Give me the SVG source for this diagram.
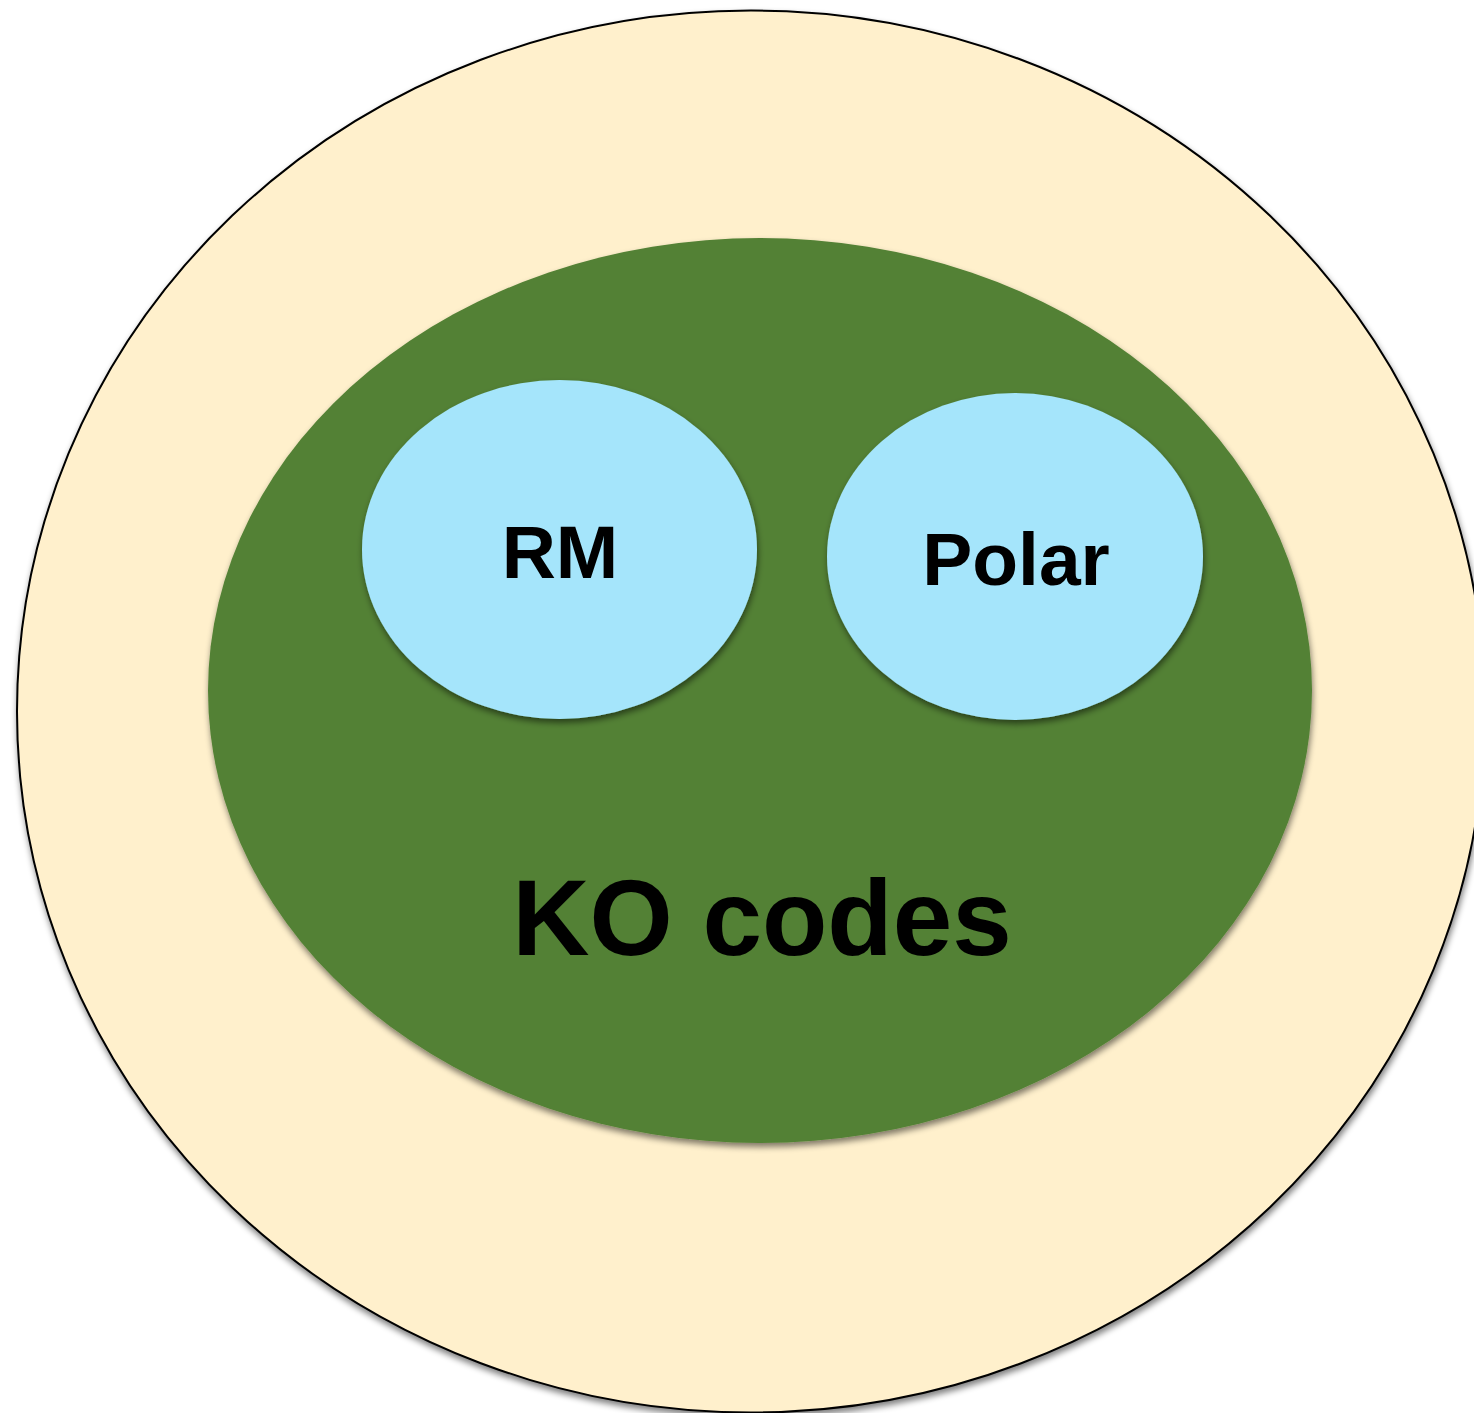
<svg xmlns="http://www.w3.org/2000/svg" width="1474" height="1413" viewBox="0 0 1474 1413">
  <style>
    .lbl { font-family: "Liberation Sans", Arial, sans-serif; font-weight: bold; fill: #000000; text-anchor: middle; }
    .inner { fill: #A5E5FB; filter: url(#shadow); }
  </style>
  <defs>
    <filter id="shadow" x="-10%" y="-10%" width="120%" height="125%">
      <feGaussianBlur in="SourceAlpha" stdDeviation="3"/>
      <feOffset dx="1" dy="4" result="b"/>
      <feComponentTransfer><feFuncA type="linear" slope="0.5"/></feComponentTransfer>
      <feMerge><feMergeNode/><feMergeNode in="SourceGraphic"/></feMerge>
    </filter>
  </defs>
  <rect width="1474" height="1413" fill="#FFFFFF"/>
  <g id="outer">
    <ellipse cx="751" cy="711.5" rx="734" ry="701" fill="#FFF0CC" stroke="#000000" stroke-width="2" filter="url(#shadow)"/>
  </g>
  <g id="ko-codes">
    <ellipse cx="760" cy="690.5" rx="552" ry="452.5" fill="#538135" filter="url(#shadow)"/>
    <text class="lbl" x="762" y="955" font-size="107">KO codes</text>
  </g>
  <g id="rm">
    <ellipse class="inner" cx="559.5" cy="549.5" rx="197.5" ry="169.5"/>
    <text class="lbl" x="560" y="578" font-size="75">RM</text>
  </g>
  <g id="polar">
    <ellipse class="inner" cx="1015" cy="556.5" rx="188" ry="163.5"/>
    <text class="lbl" x="1016" y="585" font-size="75">Polar</text>
  </g>
  <g id="connectors"/>
</svg>
